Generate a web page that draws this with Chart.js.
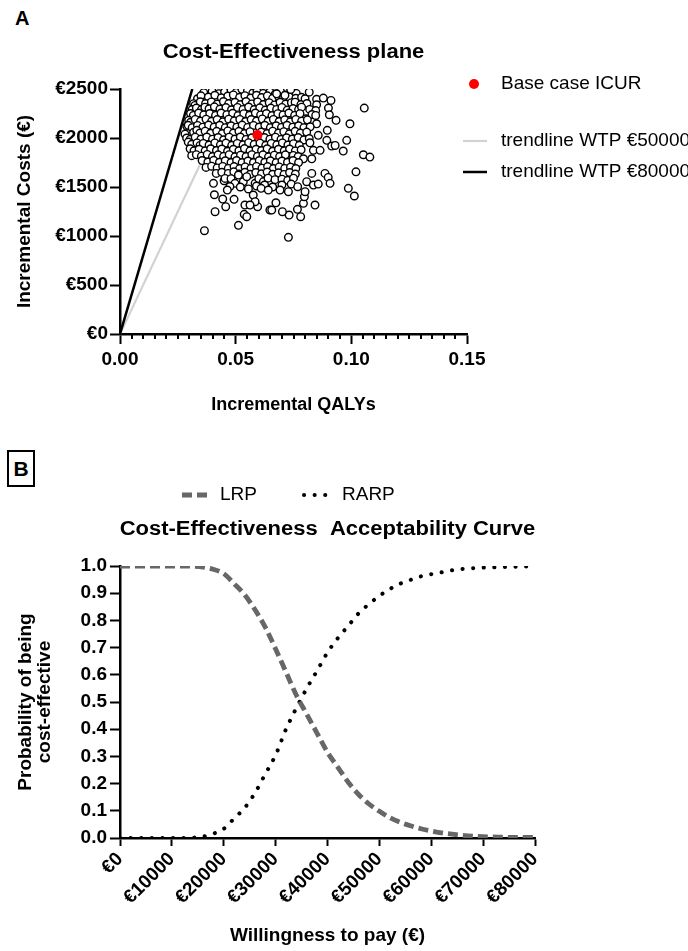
<!DOCTYPE html>
<html><head><meta charset="utf-8">
<script src="https://cdn.jsdelivr.net/npm/chart.js@4.4.1/dist/chart.umd.min.js"></script>
<style>
html,body{margin:0;padding:0;background:#fff;width:688px;height:951px;overflow:hidden;}
.panel{position:absolute;font-family:'Liberation Sans',Arial,Helvetica,sans-serif;font-weight:bold;color:#000;}
#labA{left:15px;top:8px;font-size:20px;line-height:20px;}
#labB{left:7px;top:450px;width:24px;height:33px;border:2px solid #000;font-size:21px;text-align:center;line-height:33px;}
canvas{position:absolute;left:0;}
</style></head>
<body>
<div id="labA" class="panel">A</div>
<div id="labB" class="panel">B</div>
<canvas id="cA" width="688" height="430" style="top:0"></canvas>
<canvas id="cB" width="688" height="511" style="top:440px"></canvas>
<script>
const FONT = "'Liberation Sans', Arial, Helvetica, sans-serif";

// ---------- Panel A data ----------
const qalyTicks = [0, 0.05, 0.10, 0.15];
const qalyMinorStep = 0.005;
const costTicks = [0, 500, 1000, 1500, 2000, 2500];
const wtpThresholds = [50000, 80000];
const baseCaseICUR = [0.0594, 2030];
const psaSamples = [
[0.0362,2462],[0.0398,2475],[0.0427,2452],[0.0452,2470],[0.0480,2488],[0.0503,2465],[0.0527,2497],[0.0551,2480],[0.0574,2458],[0.0592,2476],[0.0619,2455],[0.0648,2470],[0.0671,2448],[0.0693,2478],[0.0715,2440],[0.0740,2492],[0.0762,2455],[0.0818,2468],
[0.0335,2400],[0.0350,2430],[0.0382,2418],[0.0410,2436],[0.0438,2410],[0.0466,2428],[0.0490,2440],[0.0517,2415],[0.0540,2432],[0.0565,2408],[0.0590,2436],[0.0612,2412],[0.0637,2430],[0.0660,2405],[0.0685,2425],[0.0707,2410],[0.0731,2420],[0.0760,2405],[0.0785,2415],[0.0800,2400],[0.0850,2395],[0.0879,2407],
[0.0318,2350],[0.0324,2332],[0.0347,2370],[0.0370,2352],[0.0395,2368],[0.0420,2345],[0.0447,2372],[0.0470,2350],[0.0497,2365],[0.0520,2340],[0.0545,2372],[0.0570,2348],[0.0595,2368],[0.0620,2342],[0.0645,2360],[0.0668,2338],[0.0692,2365],[0.0716,2345],[0.0741,2360],[0.0757,2366],[0.0782,2340],[0.0808,2352],[0.0850,2339],[0.0901,2305],[0.0912,2383],
[0.0312,2290],[0.0330,2305],[0.0352,2290],[0.0367,2315],[0.0385,2298],[0.0408,2318],[0.0432,2295],[0.0458,2310],[0.0482,2288],[0.0508,2312],[0.0532,2292],[0.0556,2316],[0.0580,2290],[0.0604,2308],[0.0628,2285],[0.0652,2305],[0.0677,2292],[0.0700,2312],[0.0723,2285],[0.0748,2300],[0.0772,2290],[0.0785,2315],[0.0820,2292],[0.0846,2280],
[0.0305,2250],[0.0317,2230],[0.0340,2255],[0.0362,2235],[0.0388,2250],[0.0413,2230],[0.0437,2255],[0.0462,2238],[0.0487,2252],[0.0510,2228],[0.0535,2248],[0.0560,2232],[0.0585,2255],[0.0608,2235],[0.0633,2250],[0.0657,2228],[0.0682,2248],[0.0705,2235],[0.0730,2255],[0.0755,2230],[0.0778,2248],[0.0804,2196],[0.0830,2240],[0.0846,2230],[0.0905,2237],
[0.0297,2180],[0.0305,2160],[0.0325,2190],[0.0348,2172],[0.0372,2192],[0.0396,2170],[0.0420,2188],[0.0445,2165],[0.0470,2192],[0.0494,2175],[0.0518,2190],[0.0543,2168],[0.0567,2188],[0.0590,2172],[0.0615,2195],[0.0640,2170],[0.0663,2190],[0.0688,2168],[0.0712,2185],[0.0736,2165],[0.0760,2190],[0.0785,2172],[0.0810,2185],[0.0850,2145],[0.0934,2180],[0.0994,2145],
[0.0289,2120],[0.0295,2129],[0.0312,2105],[0.0335,2128],[0.0358,2110],[0.0383,2132],[0.0407,2112],[0.0431,2130],[0.0455,2105],[0.0480,2125],[0.0505,2110],[0.0528,2132],[0.0552,2108],[0.0577,2128],[0.0602,2112],[0.0626,2130],[0.0650,2105],[0.0675,2125],[0.0698,2108],[0.0722,2130],[0.0747,2110],[0.0772,2125],[0.0795,2105],[0.0822,2115],
[0.0281,2040],[0.0318,2058],[0.0332,2078],[0.0345,2050],[0.0368,2070],[0.0392,2048],[0.0418,2068],[0.0442,2045],[0.0466,2072],[0.0490,2050],[0.0514,2068],[0.0538,2045],[0.0562,2065],[0.0610,2060],[0.0636,2045],[0.0660,2070],[0.0685,2050],[0.0708,2065],[0.0732,2042],[0.0757,2068],[0.0780,2050],[0.0807,2060],[0.0857,2027],[0.0896,2078],
[0.0288,2000],[0.0303,1985],[0.0325,2008],[0.0350,1990],[0.0375,2010],[0.0400,1988],[0.0424,2005],[0.0448,1982],[0.0472,2008],[0.0497,1990],[0.0520,2010],[0.0545,1985],[0.0570,2002],[0.0600,1985],[0.0624,2005],[0.0648,1988],[0.0672,2008],[0.0696,1985],[0.0720,2002],[0.0745,1990],[0.0770,2005],[0.0795,1980],[0.0818,1995],[0.0980,1976],
[0.0295,1958],[0.0310,1935],[0.0333,1950],[0.0346,1924],[0.0360,1945],[0.0385,1928],[0.0410,1950],[0.0434,1930],[0.0458,1948],[0.0483,1925],[0.0507,1945],[0.0532,1930],[0.0556,1952],[0.0580,1935],[0.0605,1948],[0.0630,1925],[0.0654,1945],[0.0678,1930],[0.0702,1950],[0.0726,1928],[0.0750,1942],[0.0775,1925],[0.0821,1951],[0.0894,1976],
[0.0303,1890],[0.0320,1870],[0.0342,1885],[0.0368,1868],[0.0392,1890],[0.0417,1872],[0.0440,1888],[0.0465,1865],[0.0490,1885],[0.0514,1870],[0.0538,1892],[0.0562,1868],[0.0588,1885],[0.0612,1872],[0.0636,1890],[0.0660,1865],[0.0685,1885],[0.0710,1870],[0.0733,1888],[0.0758,1868],[0.0783,1880],[0.0836,1874],[0.0865,1874],[0.0915,1918],[0.0930,1924],[0.0965,1867],
[0.0310,1820],[0.0330,1830],[0.0352,1815],[0.0377,1832],[0.0400,1810],[0.0424,1828],[0.0448,1812],[0.0472,1830],[0.0497,1808],[0.0521,1825],[0.0545,1810],[0.0570,1830],[0.0594,1812],[0.0618,1828],[0.0642,1808],[0.0667,1825],[0.0690,1810],[0.0715,1828],[0.0749,1822],[0.0770,1810],[0.0793,1788],[0.0829,1788],[0.1052,1829],[0.1080,1805],
[0.0355,1770],[0.0380,1755],[0.0405,1772],[0.0430,1752],[0.0455,1768],[0.0480,1750],[0.0504,1770],[0.0528,1748],[0.0553,1765],[0.0577,1750],[0.0602,1770],[0.0626,1752],[0.0650,1768],[0.0675,1748],[0.0700,1765],[0.0724,1752],[0.0748,1770],[0.0772,1750],
[0.0372,1700],[0.0396,1712],[0.0420,1695],[0.0444,1710],[0.0468,1690],[0.0493,1708],[0.0517,1688],[0.0541,1705],[0.0566,1690],[0.0590,1710],[0.0614,1692],[0.0638,1708],[0.0663,1688],[0.0688,1705],[0.0712,1690],[0.0737,1702],[0.0760,1688],
[0.0416,1639],[0.0440,1650],[0.0468,1639],[0.0492,1655],[0.0515,1632],[0.0540,1650],[0.0563,1630],[0.0587,1648],[0.0612,1635],[0.0636,1652],[0.0660,1630],[0.0685,1645],[0.0709,1628],[0.0733,1648],[0.0758,1632],[0.0829,1639],[0.0886,1639],[0.1020,1655],
[0.0404,1537],[0.0450,1564],[0.0454,1588],[0.0480,1585],[0.0497,1537],[0.0512,1622],[0.0533,1554],[0.0548,1605],[0.0584,1537],[0.0600,1585],[0.0620,1554],[0.0640,1590],[0.0670,1575],[0.0700,1580],[0.0725,1568],[0.0750,1590],[0.0807,1554],[0.0836,1520],[0.0857,1530],[0.0900,1598],[0.0908,1537],
[0.0475,1505],[0.0520,1500],[0.0555,1480],[0.0590,1510],[0.0625,1520],[0.0660,1500],[0.0700,1520],[0.0740,1530],
[0.0365,1054],[0.0512,1109],[0.0411,1248],[0.0457,1299],[0.0408,1421],[0.0444,1377],[0.0493,1374],[0.0464,1469],[0.0537,1221],[0.0548,1197],[0.0540,1316],[0.0595,1299],[0.0576,1418],[0.0610,1486],[0.0648,1265],[0.0584,1350],[0.0562,1316],[0.0641,1469],
[0.0728,986],[0.0843,1316],[0.0781,1197],[0.0731,1214],[0.0702,1248],[0.0767,1272],[0.0674,1339],[0.0656,1265],[0.0793,1333],[0.0797,1401],[0.0800,1452],[0.0768,1503],[0.0728,1452],[0.0692,1469],[0.0987,1486],[0.1013,1408],
[0.1056,2305],[0.0738,2496],[0.0677,2451],[0.0713,2435]
];

// ---------- Panel B data ----------
const wtpValues = [0,2000,4000,6000,8000,10000,12000,14000,16000,18000,20000,22000,24000,26000,28000,30000,32000,34000,36000,38000,40000,42000,44000,46000,48000,50000,52000,54000,56000,58000,60000,62000,64000,66000,68000,70000,72000,74000,76000,78000,80000];
const lrpProb = [1.000,1.000,1.000,1.000,1.000,1.000,1.000,0.999,0.996,0.988,0.972,0.935,0.895,0.840,0.775,0.695,0.610,0.525,0.455,0.385,0.315,0.260,0.205,0.160,0.125,0.098,0.075,0.058,0.045,0.034,0.026,0.019,0.014,0.010,0.007,0.005,0.004,0.003,0.002,0.002,0.002];
const rarpProb = [0.000,0.000,0.000,0.000,0.000,0.000,0.000,0.001,0.005,0.016,0.034,0.072,0.110,0.165,0.235,0.305,0.400,0.478,0.550,0.615,0.682,0.735,0.780,0.826,0.860,0.890,0.915,0.935,0.949,0.962,0.970,0.977,0.984,0.989,0.992,0.994,0.995,0.996,0.997,0.998,0.998];
const wtpTicks = [0,10000,20000,30000,40000,50000,60000,70000,80000];
const probTicks = [0,0.1,0.2,0.3,0.4,0.5,0.6,0.7,0.8,0.9,1.0];

Chart.defaults.font.family = FONT;
Chart.defaults.color = '#000';

const overlayPlugin = {
  id: 'overlay',
  afterDraw(chart, args, o) {
    const ctx = chart.ctx, ca = chart.chartArea;
    ctx.save();
    ctx.font = 'bold ' + o.titleSize + 'px ' + FONT;
    ctx.fillStyle = '#000'; ctx.textAlign = 'center'; ctx.textBaseline = 'middle';
    ctx.translate((ca.left + ca.right) / 2, o.titleY);
    ctx.scale(o.titleStretch, 1);
    ctx.fillText(o.title, 0, 0);
    ctx.restore();
    o.legend.forEach(it => {
      const ds = chart.data.datasets[it.dataset];
      ctx.save();
      if (it.type === 'point') {
        ctx.fillStyle = ds.backgroundColor;
        ctx.beginPath(); ctx.arc(it.x, it.y, it.r, 0, Math.PI * 2); ctx.fill();
      } else {
        ctx.strokeStyle = ds.borderColor; ctx.lineWidth = ds.borderWidth;
        ctx.setLineDash(ds.borderDash || []);
        ctx.lineCap = ds.borderCapStyle || 'butt';
        ctx.beginPath(); ctx.moveTo(it.x0, it.y); ctx.lineTo(it.x1, it.y); ctx.stroke();
      }
      ctx.restore();
      ctx.save();
      ctx.font = o.legendSize + 'px ' + FONT;
      ctx.fillStyle = '#000'; ctx.textAlign = 'left'; ctx.textBaseline = 'middle';
      ctx.fillText(ds.label, it.textX, it.y);
      ctx.restore();
    });
  }
};

const minorTicksPlugin = {
  id: 'minorTicks',
  afterDraw(chart, args, o) {
    if (!o.step) return;
    const sc = chart.scales.x, ctx = chart.ctx;
    const n = Math.round((sc.max - sc.min) / o.step);
    ctx.save(); ctx.strokeStyle = '#000'; ctx.lineWidth = 2;
    for (let i = 0; i <= n; i++) {
      if (i % o.every === 0) continue;
      const px = Math.round(sc.getPixelForValue(sc.min + i * o.step));
      ctx.beginPath(); ctx.moveTo(px, sc.top); ctx.lineTo(px, sc.top + o.length); ctx.stroke();
    }
    ctx.restore();
  }
};

const axisStyle = { drawOnChartArea: false, drawTicks: true, tickWidth: 2, tickColor: '#000' };
const costMax = costTicks[costTicks.length - 1];
const trend = w => [{x: 0, y: 0}, {x: costMax / w, y: costMax}];

new Chart(document.getElementById('cA'), {
  type: 'scatter',
  data: { datasets: [
    { label: 'Base case ICUR', data: [{x: baseCaseICUR[0], y: baseCaseICUR[1]}], pointRadius: 5, backgroundColor: '#ff0000', borderColor: '#ff0000', borderWidth: 0, order: 0 },
    { label: 'PSA iterations', data: psaSamples.map(p => ({x: p[0], y: p[1]})), pointRadius: 3.8, backgroundColor: '#ffffff', borderColor: '#000000', borderWidth: 1.4, order: 1 },
    { label: 'trendline WTP €' + wtpThresholds[0], data: trend(wtpThresholds[0]), showLine: true, borderColor: '#d2d2d2', borderWidth: 2.2, pointRadius: 0, order: 3 },
    { label: 'trendline WTP €' + wtpThresholds[1], data: trend(wtpThresholds[1]), showLine: true, borderColor: '#000000', borderWidth: 2.5, pointRadius: 0, order: 2 }
  ]},
  options: {
    responsive: false, animation: false, events: [],
    layout: { padding: { top: 89, right: 221, bottom: 0, left: 0 } },
    plugins: {
      legend: { display: false }, tooltip: { enabled: false },
      overlay: { title: 'Cost-Effectiveness plane', titleSize: 20, titleStretch: 1.1, titleY: 52, legendSize: 19,
        legend: [
          { dataset: 0, type: 'point', x: 474, y: 84, r: 5, textX: 501 },
          { dataset: 2, type: 'line', x0: 463, x1: 487, y: 141, textX: 501 },
          { dataset: 3, type: 'line', x0: 463, x1: 487, y: 172, textX: 501 }
        ] },
      minorTicks: { step: qalyMinorStep, every: 10, length: 5 }
    },
    scales: {
      x: { type: 'linear', min: qalyTicks[0], max: qalyTicks[qalyTicks.length - 1],
        afterBuildTicks: s => { s.ticks = qalyTicks.map(v => ({value: v})); },
        afterFit: s => { s.height = 96; },
        ticks: { callback: v => v.toFixed(2), font: { size: 19, weight: 'bold' }, padding: 4, maxRotation: 0 },
        grid: Object.assign({ tickLength: 10 }, axisStyle),
        border: { color: '#000', width: 2.5 },
        title: { display: true, text: 'Incremental QALYs', font: { size: 18, weight: 'bold' }, padding: { top: 0, bottom: 14 } } },
      y: { type: 'linear', min: costTicks[0], max: costMax,
        afterBuildTicks: s => { s.ticks = costTicks.map(v => ({value: v})); },
        afterFit: s => { s.width = 120; },
        ticks: { callback: v => '€' + v, font: { size: 19, weight: 'bold' }, padding: 2 },
        grid: Object.assign({ tickLength: 10 }, axisStyle),
        border: { color: '#000', width: 2.5 },
        title: { display: true, text: 'Incremental Costs (€)', font: { size: 19, weight: 'bold' }, padding: { top: 13, bottom: 0 } } }
    }
  },
  plugins: [overlayPlugin, minorTicksPlugin]
});

new Chart(document.getElementById('cB'), {
  type: 'line',
  data: { datasets: [
    { label: 'LRP', data: wtpValues.map((w, i) => ({x: w, y: lrpProb[i]})), borderColor: '#676767', borderWidth: 4.8, borderDash: [10, 5], pointRadius: 0, cubicInterpolationMode: 'monotone', fill: false },
    { label: 'RARP', data: wtpValues.map((w, i) => ({x: w, y: rarpProb[i]})), borderColor: '#000000', borderWidth: 4, borderDash: [0.1, 10.5], borderCapStyle: 'round', pointRadius: 0, cubicInterpolationMode: 'monotone', fill: false }
  ]},
  options: {
    responsive: false, animation: false, events: [],
    layout: { padding: { top: 126, right: 153, bottom: 0, left: 0 } },
    plugins: {
      legend: { display: false }, tooltip: { enabled: false },
      overlay: { title: 'Cost-Effectiveness  Acceptability Curve', titleSize: 20, titleStretch: 1.1, titleY: 89, legendSize: 19,
        legend: [
          { dataset: 0, type: 'line', x0: 182, x1: 208, y: 55, textX: 220 },
          { dataset: 1, type: 'line', x0: 304, x1: 327, y: 55, textX: 342 }
        ] }
    },
    scales: {
      x: { type: 'linear', min: wtpTicks[0], max: wtpTicks[wtpTicks.length - 1],
        afterBuildTicks: s => { s.ticks = wtpTicks.map(v => ({value: v})); },
        afterFit: s => { s.height = 113; },
        ticks: { callback: v => '€' + v, font: { size: 19, weight: 'bold' }, padding: 2, autoSkip: false, maxRotation: 45, minRotation: 45 },
        grid: Object.assign({ tickLength: 8 }, axisStyle),
        border: { color: '#000', width: 2.5 },
        title: { display: true, text: 'Willingness to pay (€)', font: { size: 19, weight: 'bold' }, padding: { top: 0, bottom: 4 } } },
      y: { type: 'linear', min: 0, max: 1,
        afterBuildTicks: s => { s.ticks = probTicks.map(v => ({value: v})); },
        afterFit: s => { s.width = 120; },
        ticks: { callback: v => v.toFixed(1), font: { size: 19, weight: 'bold' }, padding: 3 },
        grid: Object.assign({ tickLength: 10 }, axisStyle),
        border: { color: '#000', width: 2.5 },
        title: { display: true, text: ['Probability of being', 'cost-effective'], font: { size: 19, weight: 'bold', lineHeight: 1.0 }, padding: { top: 16, bottom: 0 } } }
    }
  },
  plugins: [overlayPlugin]
});
</script>
</body></html>
